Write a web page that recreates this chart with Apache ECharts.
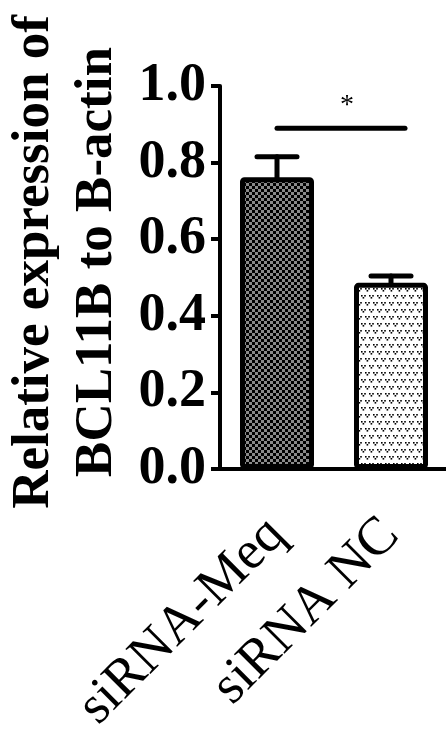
<!DOCTYPE html>
<html><head><meta charset="utf-8">
<script src="https://cdn.jsdelivr.net/npm/echarts@6/dist/echarts.min.js"></script>
<style>html,body{margin:0;padding:0;background:#fff}#c{width:446px;height:729px}</style>
</head><body><div id="c"></div>
<script>
const categories = ['siRNA-Meq', 'siRNA NC'];
const means = [0.762, 0.486];
const errors = [0.053, 0.018];
const yTicks = [0, 0.2, 0.4, 0.6, 0.8, 1.0];
const sigLevel = 0.89;
const sigText = '*';
const titleLines = ['Relative expression of', 'BCL11B to B-actin'];

function checkerPattern() {
  const c = document.createElement('canvas'); c.width = 6; c.height = 6;
  const g = c.getContext('2d');
  g.fillStyle = '#8a8a8a'; g.fillRect(0, 0, 6, 6);
  g.fillStyle = '#000'; g.fillRect(0, 0, 3, 3); g.fillRect(3, 3, 3, 3);
  return c;
}
function dotPattern() {
  const c = document.createElement('canvas'); c.width = 8; c.height = 14;
  const g = c.getContext('2d');
  g.fillStyle = '#fff'; g.fillRect(0, 0, 8, 14);
  g.fillStyle = '#000';
  const motif = (ox, oy) => {
    g.fillRect(ox, oy, 1.6, 1.6);
    g.fillRect(ox + 3.2, oy, 1.6, 1.6);
    g.fillRect(ox + 1.6, oy + 2, 1.6, 1.6);
  };
  motif(1, 1); motif(5, 8); motif(-3, 8);
  return c;
}
const patterns = [checkerPattern(), dotPattern()];

const chart = echarts.init(document.getElementById('c'), null, {renderer: 'canvas'});
const serif = '"Liberation Serif", "Times New Roman", serif';
chart.setOption({
  backgroundColor: '#fff',
  animation: false,
  grid: {left: 220, top: 86, bottom: 260, right: -2, containLabel: false, outerBoundsMode: 'none'},
  xAxis: {
    type: 'category', data: categories,
    axisLine: {lineStyle: {color: '#000', width: 4}},
    axisTick: {alignWithLabel: true, length: 9, lineStyle: {color: '#000', width: 4}},
    axisLabel: {interval: 0, rotate: 45, margin: 58, color: '#000', fontFamily: serif, fontSize: 54}
  },
  yAxis: {
    type: 'value', min: 0, max: 1.0, interval: 0.2,
    splitLine: {show: false},
    axisLine: {show: true, lineStyle: {color: '#000', width: 4}},
    axisTick: {show: true, length: 9, lineStyle: {color: '#000', width: 4}},
    axisLabel: {margin: 14, color: '#000', fontFamily: serif, fontWeight: 'bold', fontSize: 54,
      formatter: v => v.toFixed(1)}
  },
  graphic: [{
    type: 'text', x: 66, y: 262, rotation: Math.PI / 2,
    style: {text: titleLines.join('\n'), font: 'bold 53px ' + serif, fill: '#000',
      align: 'center', verticalAlign: 'middle', lineHeight: 63}
  }],
  series: [{
    type: 'bar', barWidth: 74,
    data: means.map((v, i) => ({value: v, itemStyle: {color: {image: patterns[i], repeat: 'repeat'}}})),
    itemStyle: {borderColor: '#000', borderWidth: 5, borderRadius: 2}
  }, {
    type: 'custom', z: 1,
    data: means.map((v, i) => [i, v, v + errors[i]]),
    renderItem: (params, api) => {
      const top = api.coord([api.value(0), api.value(2)]);
      const base = api.coord([api.value(0), api.value(1)]);
      const s = {stroke: '#000', lineWidth: 5, lineCap: 'round'};
      return {type: 'group', children: [
        {type: 'line', shape: {x1: top[0], y1: top[1], x2: base[0], y2: base[1]}, style: s},
        {type: 'line', shape: {x1: top[0] - 20, y1: top[1], x2: top[0] + 20, y2: top[1]}, style: s}
      ]};
    }
  }, {
    type: 'custom', z: 3,
    data: [[0, 1, sigLevel]],
    renderItem: (params, api) => {
      const a = api.coord([api.value(0), api.value(2)]);
      const b = api.coord([api.value(1), api.value(2)]);
      const x2 = b[0] + 14;
      return {type: 'group', children: [
        {type: 'line', shape: {x1: a[0], y1: a[1], x2: x2, y2: b[1]},
          style: {stroke: '#000', lineWidth: 5, lineCap: 'round'}},
        {type: 'text', x: (a[0] + x2) / 2 + 6, y: a[1] - 22,
          style: {text: sigText, font: '28px ' + serif, fill: '#000', align: 'center', verticalAlign: 'middle'}}
      ]};
    }
  }]
});
</script></body></html>
